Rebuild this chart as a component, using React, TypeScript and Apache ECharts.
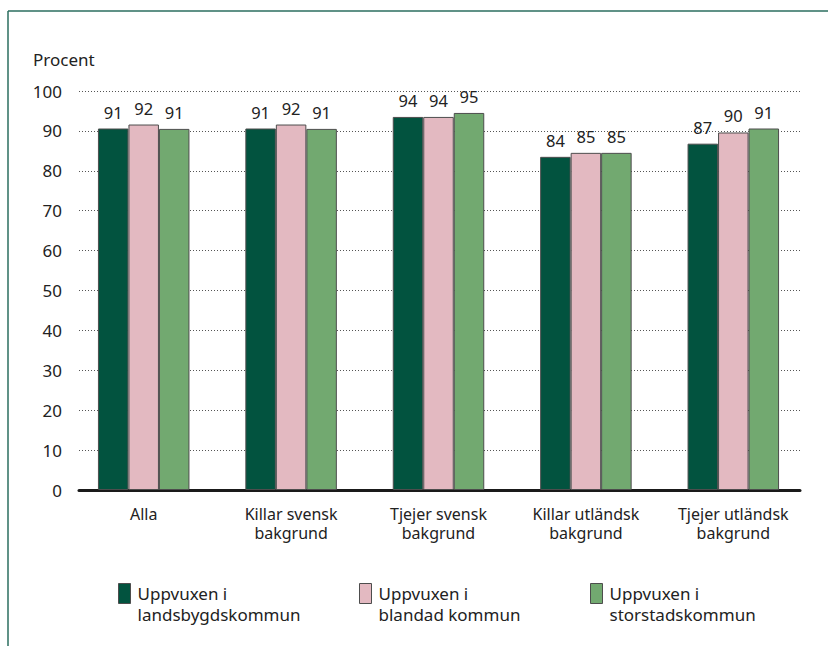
import React, { useEffect, useRef } from "react";
import * as echarts from "echarts";

const categories = [
  "Alla",
  "Killar svensk\nbakgrund",
  "Tjejer svensk\nbakgrund",
  "Killar utländsk\nbakgrund",
  "Tjejer utländsk\nbakgrund",
];
const seriesNames = [
  "Uppvuxen i landsbygdskommun",
  "Uppvuxen i blandad kommun",
  "Uppvuxen i storstadskommun",
];
const landsbygd = [90.6, 90.6, 93.5, 83.5, 86.8];
const blandad = [91.6, 91.6, 93.5, 84.5, 89.6];
const storstad = [90.5, 90.5, 94.5, 84.5, 90.6];
const yTicks = [0, 10, 20, 30, 40, 50, 60, 70, 80, 90, 100];

const colors = ["#02533f", "#e3b9c1", "#72a970"];
const FONT = "Noto Sans";

export default function App() {
  const ref = useRef<HTMLDivElement>(null);
  useEffect(() => {
    if (!ref.current) return;
    const chart = echarts.init(ref.current, null, { renderer: "svg" });
    const values = [landsbygd, blandad, storstad];
    const top = 91;
    const bottom = 156;
    const legendLefts = [118, 359, 590];
    chart.setOption({
      animation: false,
      textStyle: { fontFamily: FONT },
      grid: [
        { left: 70, right: 21, top, bottom },
        { left: 79, right: 28, top, bottom },
      ],
      xAxis: [
        {
          type: "category",
          gridIndex: 0,
          data: categories,
          axisLine: { show: false },
          axisTick: { show: false },
          axisLabel: {
            fontFamily: FONT,
            fontSize: 16,
            lineHeight: 19.5,
            color: "#222",
            margin: 14,
            interval: 0,
          },
        },
        {
          type: "category",
          gridIndex: 1,
          data: categories,
          axisLine: { show: true, lineStyle: { color: "#1a1a1a", width: 3 } },
          axisTick: { show: false },
          axisLabel: { show: false },
          z: 5,
        },
      ],
      yAxis: [
        {
          type: "value",
          gridIndex: 0,
          min: 0,
          max: 100,
          interval: 10,
          show: false,
        },
        {
          type: "value",
          gridIndex: 1,
          min: yTicks[0],
          max: yTicks[yTicks.length - 1],
          interval: 10,
          axisLine: { show: false },
          axisTick: { show: false },
          axisLabel: {
            fontFamily: FONT,
            fontSize: 17,
            color: "#222",
            margin: 17,
          },
          splitLine: {
            show: true,
            lineStyle: { color: "#555", width: 1, type: [1, 2] },
          },
        },
      ],
      legend: seriesNames.map((n, i) => ({
        data: [n],
        left: legendLefts[i],
        top: 562,
        padding: 0,
        icon: "rect",
        itemWidth: 12,
        itemHeight: 20,
        itemStyle: { borderColor: "#4d4d4d", borderWidth: 1 },
        formatter: (name: string) => "\n" + name.replace("Uppvuxen i ", "Uppvuxen i\n"),
        textStyle: {
          fontFamily: FONT,
          fontSize: 17,
          lineHeight: 21,
          color: "#222",
          padding: [0, 0, 0, 2],
        },
        selectedMode: false,
      })),
      series: seriesNames.map((n, i) => ({
        name: n,
        type: "bar",
        xAxisIndex: 0,
        yAxisIndex: 0,
        data: values[i],
        barWidth: 30.5,
        barGap: "0%",
        z: 10,
        itemStyle: { color: colors[i], borderColor: "#4d4d4d", borderWidth: 1 },
        label: {
          show: true,
          position: "top",
          distance: 8,
          fontFamily: FONT,
          fontSize: 16.5,
          color: "#222",
          formatter: (p: any) => String(Math.round(p.value)),
        },
      })),
      graphic: [
        {
          type: "line",
          shape: { x1: 8, y1: 11, x2: 828, y2: 11 },
          style: { stroke: "#2b6e5f", lineWidth: 1.5 },
        },
        {
          type: "line",
          shape: { x1: 8, y1: 11, x2: 8, y2: 646 },
          style: { stroke: "#2b6e5f", lineWidth: 1.5 },
        },
        {
          type: "text",
          x: 33,
          y: 59.5,
          style: {
            text: "Procent",
            fontFamily: FONT,
            fontSize: 17,
            fill: "#222",
            verticalAlign: "middle",
          },
        },
      ],
    });
    return () => chart.dispose();
  }, []);
  return (
    <div
      ref={ref}
      style={{ position: "fixed", left: 0, top: 0, width: 828, height: 646, background: "#fff" }}
    />
  );
}
